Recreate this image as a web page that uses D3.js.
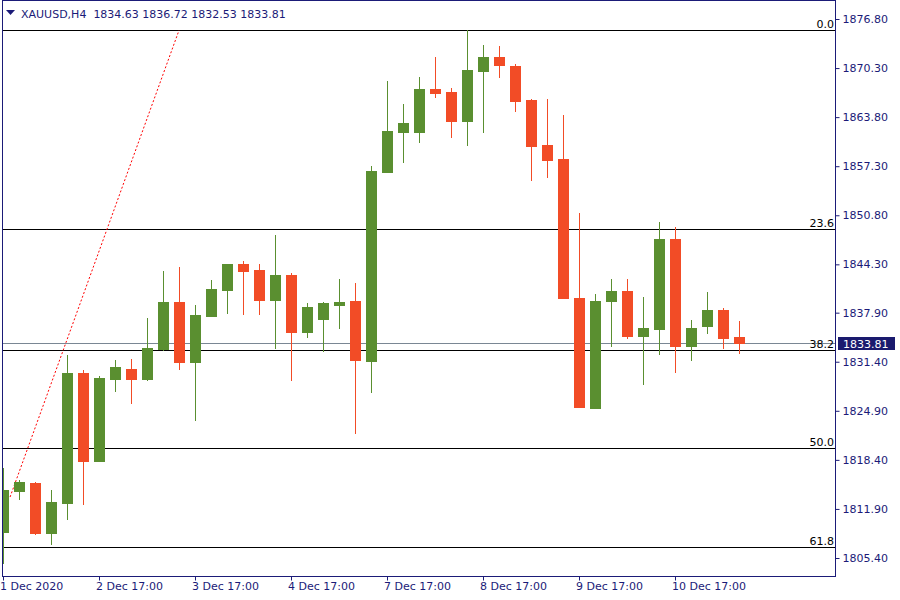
<!DOCTYPE html>
<html><head><meta charset="utf-8">
<script src="https://cdn.jsdelivr.net/npm/d3@7"></script>
<style>body{margin:0;background:#fff}svg{display:block}text{font-family:"DejaVu Sans",sans-serif;font-size:11px}</style>
</head><body>
<script>
const symbolTitle = "XAUUSD,H4";
const opens  = [1808.82,1814.25,1815.27,1808.64,1812.62,1829.84,1818.22,1829.04,1830.37,1829.04,1833.02,1839.24,1831.30,1837.39,1840.83,1844.28,1843.48,1839.51,1842.82,1835.27,1836.99,1838.85,1839.38,1831.43,1856.46,1861.76,1861.76,1867.46,1867.06,1863.22,1869.84,1871.70,1870.51,1866.00,1860.04,1858.19,1839.77,1825.20,1839.38,1840.70,1834.74,1835.67,1847.59,1833.42,1836.06,1838.18,1834.63];
const highs  = [1817.21,1815.66,1815.40,1814.34,1832.22,1830.24,1829.44,1831.56,1831.69,1837.12,1843.35,1843.88,1838.85,1842.16,1844.28,1844.68,1844.28,1848.12,1843.09,1839.11,1839.24,1842.29,1841.76,1857.26,1868.52,1865.47,1869.05,1871.70,1867.59,1875.24,1873.29,1873.16,1870.77,1866.14,1866.14,1864.02,1851.03,1840.30,1842.29,1842.29,1839.91,1849.84,1849.18,1836.86,1840.57,1838.45,1836.72];
const lows   = [1804.71,1813.11,1808.51,1807.19,1810.50,1812.49,1818.22,1827.45,1825.86,1828.91,1832.89,1830.37,1823.61,1837.39,1837.79,1837.65,1837.65,1833.15,1828.91,1834.61,1832.75,1835.80,1821.89,1827.32,1856.46,1857.79,1860.44,1866.40,1861.10,1860.04,1861.76,1869.05,1864.55,1855.41,1855.80,1839.77,1825.33,1825.20,1833.42,1834.48,1828.38,1832.36,1829.97,1831.56,1835.14,1833.15,1832.53];
const closes = [1814.34,1815.40,1808.64,1812.75,1829.84,1818.22,1829.18,1830.63,1829.04,1833.15,1839.24,1831.30,1837.52,1840.97,1844.28,1843.35,1839.51,1842.82,1835.27,1838.58,1839.11,1839.24,1831.56,1856.60,1861.90,1862.96,1867.46,1866.93,1863.22,1869.98,1871.70,1870.64,1865.87,1859.91,1858.05,1839.77,1825.33,1839.38,1840.70,1834.74,1835.80,1847.59,1833.42,1835.80,1838.18,1834.48,1833.81];
const yTickValues = [1805.40,1811.90,1818.40,1824.90,1831.40,1837.90,1844.30,1850.80,1857.30,1863.80,1870.30,1876.80];
const xTickIndex  = [0,6,12,18,24,30,36,42];
const xTickLabels = ["1 Dec 2020","2 Dec 17:00","3 Dec 17:00","4 Dec 17:00","7 Dec 17:00","8 Dec 17:00","9 Dec 17:00","10 Dec 17:00"];
const fibLabels = ["0.0","23.6","38.2","50.0","61.8"];
const fibPrices = [1875.24,1848.96,1832.85,1819.87,1806.79];
const fibLineIndex = [0.41,10.97];
const fibLinePrice = [1813.41,1875.24];

const W=900,H=600;
const L=2.5,R=835.5,T=0.5,B=576.5;
const navy="#1b1b78", up="#5a8f30", dn="#f24c26";
const n=opens.length;
const last=closes[n-1];

const x=d3.scaleLinear().domain([0,n-1]).range([3.5,3.5+16*(n-1)]);
const y=d3.scaleLinear().domain([1805.40,1876.80]).range([557.5,18.5]);
const py=v=>Math.round(y(v));

const svg=d3.select("body").append("svg").attr("width",W).attr("height",H);
svg.append("defs").append("clipPath").attr("id","plot").append("rect")
  .attr("x",3).attr("y",1).attr("width",R-3.5).attr("height",B-1.5);
const g=svg.append("g").attr("clip-path","url(#plot)");

// fib levels
g.selectAll("line.fib").data(fibPrices).join("line").attr("class","fib")
  .attr("x1",L).attr("x2",R).attr("y1",d=>py(d)+0.5).attr("y2",d=>py(d)+0.5)
  .attr("stroke","#000").attr("stroke-width",1).attr("shape-rendering","crispEdges");
// current price line
g.append("line").attr("x1",L).attr("x2",R).attr("y1",py(last)+0.5).attr("y2",py(last)+0.5)
  .attr("stroke","#7a8794").attr("stroke-width",1).attr("shape-rendering","crispEdges");
// fib trend line
g.append("line").attr("x1",x(fibLineIndex[0])).attr("y1",y(fibLinePrice[0]))
  .attr("x2",x(fibLineIndex[1])).attr("y2",y(fibLinePrice[1]))
  .attr("stroke","#ff0000").attr("stroke-width",1).attr("stroke-dasharray","2,2");

const idx=d3.range(n);
// wicks
g.selectAll("rect.wick").data(idx).join("rect").attr("class","wick")
  .attr("x",i=>x(i)-0.5).attr("width",1)
  .attr("y",i=>py(highs[i])).attr("height",i=>Math.max(1,py(lows[i])-py(highs[i])+1))
  .attr("fill",i=>closes[i]>=opens[i]?up:dn).attr("shape-rendering","crispEdges");
// bodies
g.selectAll("rect.body").data(idx).join("rect").attr("class","body")
  .attr("x",i=>x(i)-5.5).attr("width",11)
  .attr("y",i=>py(Math.max(opens[i],closes[i])))
  .attr("height",i=>Math.max(2,py(Math.min(opens[i],closes[i]))-py(Math.max(opens[i],closes[i]))+1))
  .attr("fill",i=>closes[i]>=opens[i]?up:dn).attr("shape-rendering","crispEdges");

// fib labels
svg.selectAll("text.fibl").data(fibPrices).join("text").attr("class","fibl")
  .attr("x",834).attr("y",d=>py(d)-2).attr("text-anchor","end").attr("fill","#000")
  .text((d,i)=>fibLabels[i]);

// frame
svg.append("rect").attr("x",L).attr("y",T).attr("width",R-L).attr("height",B-T)
  .attr("fill","none").attr("stroke",navy).attr("stroke-width",1).attr("shape-rendering","crispEdges");

// y axis
const yAxis=d3.axisRight(y).tickValues(yTickValues).tickFormat(d3.format(".2f")).tickSize(4).tickPadding(3);
const ya=svg.append("g").attr("transform",`translate(${R},0.5)`).call(yAxis);
ya.select(".domain").remove();
ya.selectAll("line").attr("stroke",navy);
ya.selectAll("text").attr("fill",navy).style("font-family","DejaVu Sans").style("font-size","11px");

// x axis
const xAxis=d3.axisBottom(x).tickValues(xTickIndex).tickFormat((d,i)=>xTickLabels[i]).tickSize(4).tickPadding(2);
const xa=svg.append("g").attr("transform",`translate(0,${B})`).call(xAxis);
xa.select(".domain").remove();
xa.selectAll("line").attr("stroke",navy).attr("transform","translate(-0.5,0)");
xa.selectAll("text").attr("fill",navy).attr("text-anchor","start").attr("dx",-4)
  .style("font-family","DejaVu Sans").style("font-size","11px");

// current price label
const cy=py(last);
svg.append("rect").attr("x",838).attr("y",cy-6).attr("width",57).attr("height",13).attr("fill","#1a1a6e");
svg.append("text").attr("x",843).attr("y",cy+4.5).attr("fill","#fff").text(d3.format(".2f")(last));

// header
svg.append("path").attr("d","M6,10 L15,10 L10.5,15 Z").attr("fill",navy);
svg.append("text").attr("x",21).attr("y",18).attr("fill",navy).attr("xml:space","preserve")
  .text(symbolTitle+"  "+[opens[n-1],highs[n-1],lows[n-1],closes[n-1]].map(d3.format(".2f")).join(" "));
</script>
</body></html>
